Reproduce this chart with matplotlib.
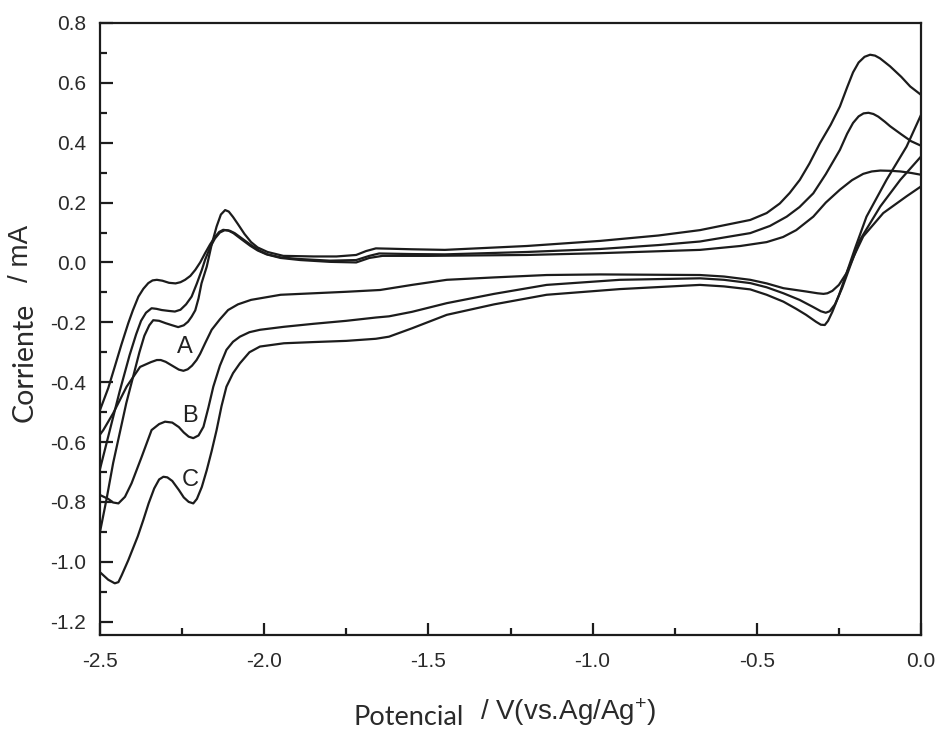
import matplotlib
matplotlib.use("Agg")
import matplotlib.pyplot as plt
from matplotlib.ticker import MultipleLocator, FormatStrFormatter

plt.rcParams['axes.unicode_minus'] = False
plt.rcParams['font.family'] = ['Liberation Sans', 'DejaVu Sans']
plt.rcParams['mathtext.default'] = 'regular'

# curve A - cathodic scan (0 -> -2.5)
a_low_x = [0.0, -0.044, -0.115, -0.176, -0.205, -0.227, -0.25, -0.27, -0.285, -0.297, -0.315, -0.35,
           -0.419, -0.47, -0.52, -0.6, -0.673, -0.977, -1.14, -1.3, -1.444, -1.55, -1.647, -1.75,
           -1.83, -1.95, -2.04, -2.08, -2.11, -2.135, -2.16, -2.18, -2.195, -2.206, -2.22, -2.233,
           -2.246, -2.26, -2.28, -2.30, -2.315, -2.327, -2.345, -2.378, -2.419, -2.46, -2.49, -2.5]
a_low_y = [0.254, 0.221, 0.165, 0.087, 0.02, -0.036, -0.075, -0.095, -0.103, -0.105, -0.103, -0.097,
           -0.086, -0.07, -0.058, -0.047, -0.042, -0.04, -0.042, -0.05, -0.058, -0.075, -0.092, -0.098,
           -0.102, -0.108, -0.125, -0.14, -0.159, -0.19, -0.225, -0.27, -0.305, -0.326, -0.345, -0.357,
           -0.362, -0.358, -0.345, -0.332, -0.326, -0.326, -0.333, -0.349, -0.415, -0.504, -0.56, -0.575]
# curve A - anodic scan (-2.5 -> 0)
a_up_x = [-2.5, -2.475, -2.455, -2.435, -2.414, -2.4, -2.383, -2.368, -2.353, -2.34, -2.327, -2.31,
          -2.29, -2.27, -2.255, -2.241, -2.225, -2.21, -2.195, -2.18, -2.165, -2.15, -2.137, -2.125,
          -2.11, -2.094, -2.07, -2.043, -2.02, -1.993, -1.95, -1.89, -1.8, -1.72, -1.68, -1.64,
          -1.5, -1.2, -0.977, -0.673, -0.55, -0.47, -0.42, -0.38, -0.328, -0.29, -0.247, -0.21,
          -0.176, -0.15, -0.124, -0.09, -0.063, -0.03, 0.0]
a_up_y = [-0.493, -0.42, -0.348, -0.275, -0.203, -0.16, -0.114, -0.088, -0.069, -0.06, -0.058, -0.061,
          -0.068, -0.07, -0.066, -0.058, -0.045, -0.025, 0.0, 0.031, 0.06, 0.085, 0.102, 0.109,
          0.107, 0.098, 0.078, 0.056, 0.04, 0.027, 0.015, 0.008, 0.002, 0.0, 0.015, 0.022,
          0.022, 0.025, 0.031, 0.042, 0.055, 0.068, 0.085, 0.108, 0.153, 0.2, 0.243, 0.275,
          0.296, 0.304, 0.307, 0.306, 0.304, 0.299, 0.293]

# curve B
b_low_x = [0.0, -0.063, -0.124, -0.186, -0.215, -0.24, -0.262, -0.278, -0.29, -0.305, -0.33, -0.37,
           -0.419, -0.47, -0.52, -0.6, -0.673, -0.917, -1.14, -1.3, -1.444, -1.55, -1.62, -1.66,
           -1.75, -1.85, -1.94, -2.013, -2.045, -2.074, -2.095, -2.115, -2.135, -2.155, -2.17, -2.185,
           -2.2, -2.216, -2.23, -2.245, -2.26, -2.28, -2.302, -2.32, -2.343, -2.373, -2.404, -2.424,
           -2.444, -2.46, -2.475, -2.5]
b_low_y = [0.354, 0.276, 0.187, 0.075, -0.01, -0.085, -0.14, -0.163, -0.168, -0.163, -0.148, -0.125,
           -0.103, -0.083, -0.069, -0.058, -0.053, -0.058, -0.075, -0.105, -0.136, -0.165, -0.18, -0.184,
           -0.195, -0.205, -0.215, -0.225, -0.233, -0.248, -0.265, -0.292, -0.345, -0.415, -0.485, -0.549,
           -0.578, -0.587, -0.582, -0.568, -0.55, -0.535, -0.532, -0.54, -0.56, -0.649, -0.738, -0.783,
           -0.805, -0.802, -0.79, -0.777]
b_up_x = [-2.5, -2.47, -2.44, -2.41, -2.39, -2.375, -2.36, -2.343, -2.328, -2.312, -2.29, -2.272,
          -2.255, -2.238, -2.221, -2.205, -2.19, -2.18, -2.165, -2.15, -2.135, -2.12, -2.105, -2.09,
          -2.065, -2.04, -2.015, -1.99, -1.95, -1.9, -1.8, -1.72, -1.68, -1.65, -1.55, -1.45,
          -1.2, -0.977, -0.8, -0.673, -0.52, -0.46, -0.409, -0.37, -0.328, -0.29, -0.247, -0.225,
          -0.207, -0.19, -0.175, -0.16, -0.145, -0.13, -0.11, -0.094, -0.06, -0.03, 0.0]
b_up_y = [-0.69, -0.56, -0.43, -0.31, -0.24, -0.195, -0.168, -0.153, -0.155, -0.159, -0.162, -0.164,
          -0.158, -0.14, -0.114, -0.07, -0.025, 0.009, 0.05, 0.08, 0.1, 0.108, 0.106, 0.098,
          0.078, 0.058, 0.04, 0.027, 0.017, 0.012, 0.006, 0.008, 0.022, 0.03, 0.028, 0.027,
          0.035, 0.045, 0.058, 0.07, 0.098, 0.122, 0.153, 0.185, 0.231, 0.295, 0.376, 0.43,
          0.466, 0.488, 0.498, 0.50, 0.496, 0.487, 0.47, 0.455, 0.428, 0.405, 0.39]

# curve C
c_low_x = [0.0, -0.044, -0.105, -0.166, -0.2, -0.225, -0.25, -0.27, -0.283, -0.293, -0.305, -0.32,
           -0.35, -0.38, -0.419, -0.47, -0.52, -0.6, -0.673, -0.917, -1.14, -1.3, -1.444, -1.55,
           -1.62, -1.66, -1.75, -1.85, -1.94, -2.013, -2.045, -2.074, -2.095, -2.115, -2.13, -2.145,
           -2.16, -2.175, -2.19, -2.205, -2.216, -2.23, -2.245, -2.26, -2.28, -2.295, -2.307, -2.32,
           -2.335, -2.352, -2.368, -2.385, -2.414, -2.434, -2.444, -2.455, -2.475, -2.5]
c_low_y = [0.493, 0.387, 0.276, 0.153, 0.05, -0.03, -0.11, -0.165, -0.195, -0.209, -0.208, -0.198,
           -0.175, -0.155, -0.131, -0.108, -0.09, -0.08, -0.075, -0.089, -0.108, -0.14, -0.175, -0.22,
           -0.248, -0.255, -0.262, -0.266, -0.27, -0.281, -0.30, -0.337, -0.37, -0.415, -0.48, -0.56,
           -0.63, -0.694, -0.75, -0.79, -0.805, -0.80, -0.785, -0.76, -0.73, -0.718, -0.716, -0.725,
           -0.755, -0.805, -0.86, -0.915, -0.995, -1.045, -1.068, -1.072, -1.06, -1.035]
c_up_x = [-2.5, -2.48, -2.46, -2.44, -2.42, -2.40, -2.38, -2.365, -2.35, -2.338, -2.32, -2.30,
          -2.28, -2.262, -2.245, -2.232, -2.221, -2.21, -2.2, -2.191, -2.175, -2.16, -2.145, -2.132,
          -2.119, -2.108, -2.095, -2.08, -2.06, -2.04, -2.02, -1.99, -1.942, -1.85, -1.78, -1.72,
          -1.69, -1.66, -1.62, -1.55, -1.45, -1.2, -0.977, -0.8, -0.673, -0.52, -0.47, -0.43,
          -0.40, -0.369, -0.34, -0.308, -0.275, -0.247, -0.225, -0.207, -0.19, -0.172, -0.155, -0.14,
          -0.125, -0.11, -0.094, -0.06, -0.033, 0.0]
c_up_y = [-0.90, -0.79, -0.67, -0.57, -0.47, -0.385, -0.30, -0.245, -0.21, -0.193, -0.195, -0.203,
          -0.21, -0.216, -0.21, -0.198, -0.181, -0.16, -0.12, -0.07, -0.014, 0.06, 0.12, 0.16,
          0.175, 0.17, 0.152, 0.128, 0.095, 0.068, 0.05, 0.035, 0.022, 0.02, 0.02, 0.025,
          0.038, 0.047, 0.046, 0.044, 0.042, 0.055, 0.072, 0.09, 0.108, 0.142, 0.165, 0.197,
          0.232, 0.276, 0.33, 0.398, 0.46, 0.521, 0.585, 0.635, 0.668, 0.687, 0.694, 0.691,
          0.682, 0.669, 0.655, 0.62, 0.588, 0.56]

curve_labels = ['A', 'B', 'C']
label_x = [-2.241, -2.226, -2.226]
label_y = [-0.283, -0.513, -0.727]

fig = plt.figure(figsize=(9.4, 7.3), dpi=100)
ax = fig.add_axes([0.1064, 0.130, 0.8734, 0.8385])

line_kw = dict(color='#1c1c1c', lw=1.6, solid_joinstyle='round', solid_capstyle='round')
for xs, ys in [(a_low_x, a_low_y), (a_up_x, a_up_y),
               (b_low_x, b_low_y), (b_up_x, b_up_y),
               (c_low_x, c_low_y), (c_up_x, c_up_y)]:
    ax.plot(xs, ys, **line_kw)

for lab, lx, ly in zip(curve_labels, label_x, label_y):
    ax.text(lx, ly, lab, fontsize=17, color='#222222', ha='center', va='center')

ax.set_xlim(-2.5, 0.0)
ax.set_ylim(-1.245, 0.8)
ax.xaxis.set_major_locator(MultipleLocator(0.5))
ax.xaxis.set_minor_locator(MultipleLocator(0.25))
ax.yaxis.set_major_locator(MultipleLocator(0.2))
ax.yaxis.set_minor_locator(MultipleLocator(0.1))
ax.xaxis.set_major_formatter(FormatStrFormatter('%.1f'))
ax.yaxis.set_major_formatter(FormatStrFormatter('%.1f'))
ax.tick_params(which='both', direction='in', width=1.6, colors='#1c1c1c',
               labelcolor='#2a2a2a', labelsize=15)
ax.tick_params(which='major', length=9)
ax.tick_params(which='minor', length=5)
ax.tick_params(axis='y', pad=10)
ax.tick_params(axis='x', pad=12)
for sp in ax.spines.values():
    sp.set_linewidth(1.6)
    sp.set_color('#1c1c1c')

fig.text(0.4346, 0.0068, 'Potencial', fontsize=19.5, family=['Lato', 'DejaVu Sans'],
         color='#2a2a2a', ha='center', va='baseline')
fig.text(0.5106, 0.0137, '/ V(vs.Ag/Ag$^{+}$)', fontsize=20, color='#2a2a2a',
         ha='left', va='baseline')
fig.text(0.0266, 0.5034, 'Corriente', fontsize=20.5, family=['Lato', 'DejaVu Sans'],
         color='#2a2a2a', rotation=90, ha='center', va='center')
fig.text(0.022, 0.6534, '/ mA', fontsize=20, color='#2a2a2a',
         rotation=90, ha='center', va='center')

fig.savefig('out.png', dpi=100)
